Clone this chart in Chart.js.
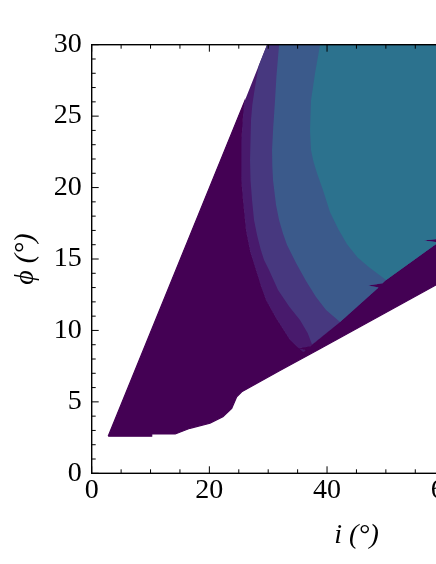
<!DOCTYPE html>
<html><head><meta charset="utf-8">
<script src="https://cdn.jsdelivr.net/npm/chart.js@4.4.1/dist/chart.umd.min.js"></script>
<style>
html,body{margin:0;padding:0;background:#fff;overflow:hidden;}
#wrap{width:436px;height:564px;overflow:hidden;position:relative;background:#fff;}
canvas{display:block;}
</style></head><body>
<div id="wrap"><canvas id="c" width="660" height="564" style="width:660px;height:564px"></canvas></div>
<script>
// ---- axis ticks ----
const xTickValues = [0, 20, 40, 60, 80];
const yTickValues = [0, 5, 10, 15, 20, 25, 30];
// ---- contour level colours (lowest to highest) ----
const levelColors = ['#440154', '#481a6c', '#47387f', '#3b5a8b', '#2c728e'];
// ---- outer boundary of the valid region (i, phi) ----
const diagonalEdge = [[2.8,2.6],[29.8,30.0],[30.3,30.5]];
const lowerEdge = [[2.8,2.6],[10.2,2.6],[10.2,2.75],[14.2,2.75],[16.7,3.15],[20.1,3.5],[22.3,3.96],[23.8,4.55],[24.65,5.36],[25.5,5.71],[32.0,7.2],[38.8,8.72],[45.6,10.26],[52.4,11.8],[58.5,13.18],[70,15.8],[92,20.8]];
// ---- upper edge of the lowest-level band along the bottom right ----
const bandTop = [[35.92,8.49],[36.4,8.62],[35.2,8.75],[37.15,8.9],[42.21,10.59],[48.75,13.0],[47.0,13.15],[49.42,13.3],[50.03,13.53],[58.53,16.05],[59.03,16.15],[56.4,16.3],[59.7,16.45],[70,19.5],[92,25]];
// ---- contour lines between levels ----
const contour1 = [[25.95,26.0],[25.72,24.95],[25.45,23.3],[25.38,21.94],[25.5,20.5],[25.72,19.13],[26.23,17.03],[26.95,15.5],[27.93,14.23],[28.8,13.1],[29.63,12.13],[31.33,10.87],[33.71,9.33],[35.92,8.49]];
const contour2 = [[28.4,28.55],[27.76,27.05],[27.3,25.8],[27.08,24.74],[26.91,21.93],[27.0,20.5],[27.25,19.13],[27.59,17.73],[28.1,16.68],[28.7,15.7],[29.29,14.93],[30.14,14.23],[31.67,12.83],[33.59,11.66],[35.4,10.73],[36.72,9.8],[37.45,9.01]];
const contour3 = [[32.0,30.5],[31.84,29.97],[31.4,27.8],[31.16,26.12],[30.85,24.2],[30.65,22.62],[30.7,21.5],[30.82,20.52],[31.33,18.78],[31.84,17.73],[32.5,16.8],[33.2,15.98],[34.73,14.72],[36.43,13.46],[38.13,12.34],[39.83,11.43],[42.21,10.59]];
const contour4 = [[38.9,30.5],[38.8,29.97],[37.96,28.01],[37.28,26.12],[37.11,24.02],[37.28,22.62],[37.7,21.8],[38.3,21.01],[39.32,19.82],[40.51,18.28],[41.9,17.1],[43.4,16.04],[45.2,15.1],[47.14,14.43],[50.03,13.53]];

const X_MAX = 90, Y_MAX = 30;

function bandAfter(end) {
  return bandTop.slice(bandTop.findIndex(p => p[0] > end[0]));
}
function regionRightOf(curve) {
  const start = curve[0], end = curve[curve.length - 1];
  const top = diagonalEdge.filter(p => p[1] > start[1]).reverse();
  return [...top, ...curve, ...bandAfter(end), [92, 30.5]];
}
// lowest level: left of the first contour line, plus the band below all levels
const lowestRegion = [
  ...diagonalEdge.filter(p => p[1] < contour1[0][1]),
  ...contour1,
  ...bandAfter(contour1[contour1.length - 1]),
  ...lowerEdge.slice().reverse()
];
const regions = [lowestRegion, regionRightOf(contour1), regionRightOf(contour2), regionRightOf(contour3), regionRightOf(contour4)];

const datasets = regions.map((poly, i) => ({
  data: poly.map(p => ({x: p[0], y: p[1]})),
  fill: 'shape',
  backgroundColor: levelColors[i],
  borderColor: i === 0 ? levelColors[0] : 'rgba(0,0,0,0)',
  borderWidth: i === 0 ? 1.2 : 0,
  pointRadius: 0,
  tension: 0,
  order: regions.length - 1 - i
}));

const frameTicks = {
  id: 'frameTicks',
  afterDraw(chart) {
    const {ctx, chartArea: a, scales: {x, y}} = chart;
    ctx.save();
    ctx.strokeStyle = '#000';
    ctx.lineWidth = 1;
    ctx.beginPath();
    for (let v = 0; v <= X_MAX; v += 5) {
      const px = x.getPixelForValue(v);
      const len = (v % 20 === 0) ? 7 : 4;
      ctx.moveTo(px, a.bottom); ctx.lineTo(px, a.bottom - len);
      ctx.moveTo(px, a.top); ctx.lineTo(px, a.top + len);
    }
    for (let v = 0; v <= Y_MAX; v += 1) {
      const py = y.getPixelForValue(v);
      const len = (v % 5 === 0) ? 7 : 4;
      ctx.moveTo(a.left, py); ctx.lineTo(a.left + len, py);
      ctx.moveTo(a.right, py); ctx.lineTo(a.right - len, py);
    }
    ctx.stroke();
    ctx.lineWidth = 1.4;
    ctx.strokeRect(a.left, a.top, a.right - a.left, a.bottom - a.top);
    ctx.restore();
  }
};

Chart.defaults.font.family = "'Liberation Serif','DejaVu Serif',serif";
Chart.defaults.color = '#000';

new Chart(document.getElementById('c'), {
  type: 'line',
  data: {datasets},
  options: {
    responsive: false,
    animation: false,
    devicePixelRatio: 1,
    layout: {padding: {top: 44.7, left: 0, right: 38.8, bottom: 0}},
    plugins: {legend: {display: false}, tooltip: {enabled: false}},
    scales: {
      x: {
        type: 'linear', min: 0, max: X_MAX,
        grid: {display: false, drawTicks: false},
        border: {display: false},
        afterBuildTicks: s => { s.ticks = xTickValues.map(v => ({value: v})); },
        afterFit: s => { s.height = 90.7; },
        ticks: {padding: 1, font: {size: 28}, color: '#000', maxRotation: 0, autoSkip: false},
        title: {display: true, text: 'i (°)', font: {size: 28, style: 'italic'}, color: '#000', padding: {top: 0, bottom: 12}}
      },
      y: {
        type: 'linear', min: 0, max: Y_MAX,
        grid: {display: false, drawTicks: false},
        border: {display: false},
        afterBuildTicks: s => { s.ticks = yTickValues.map(v => ({value: v})); },
        afterFit: s => { s.width = 91.7; },
        ticks: {padding: 10, font: {size: 28}, color: '#000', autoSkip: false},
        title: {display: true, text: 'ϕ (°)', font: {size: 28, style: 'italic'}, color: '#000', padding: {top: 9, bottom: 0}}
      }
    }
  },
  plugins: [frameTicks]
});
</script>
</body></html>
